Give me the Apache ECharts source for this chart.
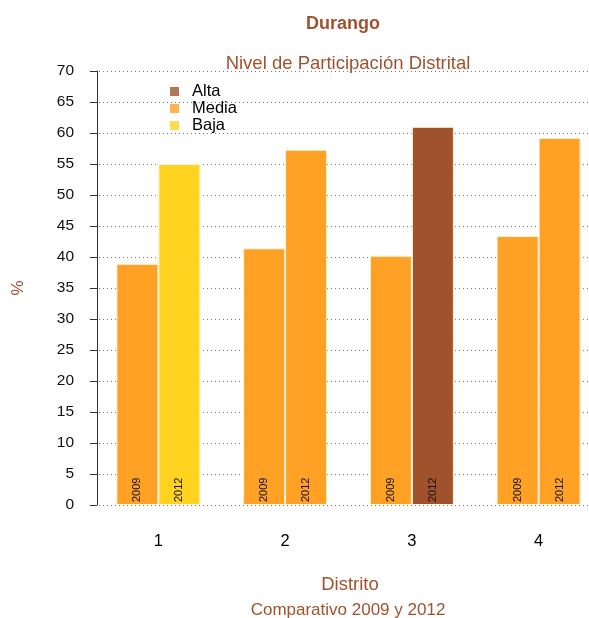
<!DOCTYPE html>
<html><head><meta charset="utf-8">
<script src="https://cdn.jsdelivr.net/npm/echarts@6/dist/echarts.min.js"></script>
<style>html,body{margin:0;padding:0;background:#fff}#c{width:589px;height:618px}</style>
</head><body><div id="c"></div>
<script>
const categories = ['1', '2', '3', '4'];
const years = ['2009', '2012'];
const values2009 = [38.9, 41.4, 40.2, 43.4];
const values2012 = [55.0, 57.3, 61.0, 59.2];
const levels2009 = ['Media', 'Media', 'Media', 'Media'];
const levels2012 = ['Baja', 'Media', 'Alta', 'Media'];
const levelNames = ['Alta', 'Media', 'Baja'];
const levelColors = { Alta: '#A0522D', Media: '#FFA125', Baja: '#FFD320' };
const yTicks = [0, 5, 10, 15, 20, 25, 30, 35, 40, 45, 50, 55, 60, 65, 70];

const brown = '#A0522D';
const font = 'Liberation Sans, Arial, sans-serif';

function barSeries(name, vals, levels) {
  return {
    type: 'bar', name: name, barWidth: 42, barGap: '0%',
    data: vals.map((v, i) => ({ value: v, itemStyle: { color: levelColors[levels[i]] } })),
    itemStyle: { borderColor: '#fff3d6', borderWidth: 1 },
    label: {
      show: true, position: 'insideBottom', rotate: 90, distance: 3,
      align: 'left', verticalAlign: 'middle',
      formatter: name, fontSize: 11, color: '#111', fontFamily: font
    },
    emphasis: { disabled: true }
  };
}

const chart = echarts.init(document.getElementById('c'), null, { renderer: 'canvas' });
chart.setOption({
  animation: false,
  backgroundColor: '#fff',
  title: [
    { text: 'Durango', left: 338, top: 10, textAlign: 'center',
      textStyle: { color: brown, fontSize: 18, fontWeight: 'bold', fontFamily: font } },
    { text: 'Nivel de Participación Distrital', left: 343, top: 49, textAlign: 'center',
      textStyle: { color: brown, fontSize: 18.5, fontWeight: 'normal', fontFamily: font } },
    { text: 'Distrito', left: 345, top: 570, textAlign: 'center',
      textStyle: { color: brown, fontSize: 18.5, fontWeight: 'normal', fontFamily: font } },
    { text: 'Comparativo 2009 y 2012', left: 343, top: 597, textAlign: 'center',
      textStyle: { color: brown, fontSize: 17, fontWeight: 'normal', fontFamily: font } }
  ],
  legend: {
    data: levelNames, orient: 'vertical', left: 170, top: 83, padding: 0,
    icon: 'rect', itemWidth: 9, itemHeight: 9, itemGap: 0,
    textStyle: { fontSize: 16.5, lineHeight: 17, color: '#000', fontFamily: font, padding: [0, 0, 0, 8] },
    selectedMode: false
  },
  grid: { left: 95, top: 71, width: 507, height: 434, containLabel: false, outerBoundsMode: 'none' },
  xAxis: {
    type: 'category', data: categories,
    axisLine: { show: false }, axisTick: { show: false },
    axisLabel: { fontSize: 16.5, color: '#000', margin: 28, fontFamily: font },
    splitLine: { show: false }
  },
  yAxis: {
    type: 'value', min: 0, max: 70, interval: 5, offset: -2,
    name: '%', nameLocation: 'middle', nameGap: 70,
    nameTextStyle: { color: brown, fontSize: 17, fontFamily: font },
    axisLine: { show: true, lineStyle: { color: '#333', width: 1 } },
    axisTick: { show: true, length: 7, lineStyle: { color: '#333' } },
    axisLabel: { fontSize: 15.5, color: '#111', margin: 23, fontFamily: font,
      formatter: v => (yTicks.includes(v) ? String(v) : '') },
    splitLine: { show: true, lineStyle: { color: '#777', type: [1, 3], width: 1 } }
  },
  series: [
    barSeries(years[0], values2009, levels2009),
    barSeries(years[1], values2012, levels2012),
    ...levelNames.map(n => ({ type: 'scatter', name: n, data: [], itemStyle: { color: levelColors[n] } }))
  ]
});
</script></body></html>
